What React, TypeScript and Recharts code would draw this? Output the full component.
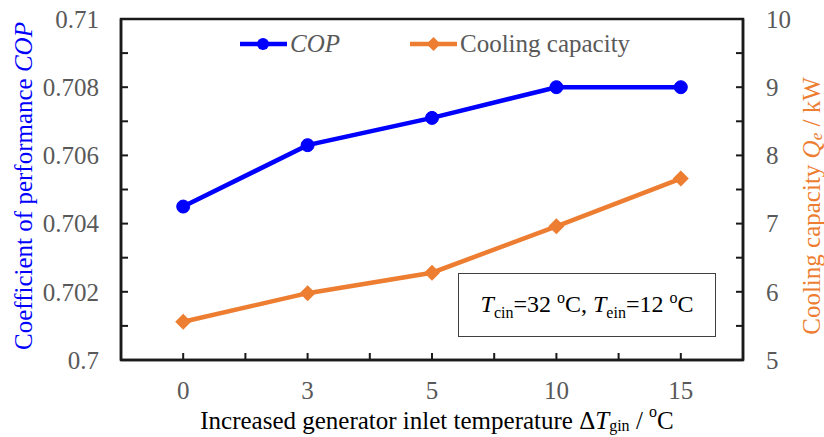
import { ComposedChart, Line, XAxis, YAxis, Legend, ReferenceArea, Label } from 'recharts';

const temps = ['0', '3', '5', '10', '15'];
const cop = [0.7045, 0.7063, 0.7071, 0.708, 0.708];
const cooling = [5.56, 5.98, 6.28, 6.96, 7.66];

const copTicks = [0.7, 0.702, 0.704, 0.706, 0.708, 0.71];
const copMinorTicks = [0.7, 0.701, 0.702, 0.703, 0.704, 0.705, 0.706, 0.707, 0.708, 0.709, 0.71];
const capTicks = [5, 6, 7, 8, 9, 10];
const capMinorTicks = [5, 5.5, 6, 6.5, 7, 7.5, 8, 8.5, 9, 9.5, 10];

const data = temps.map((t, i) => ({ t, cop: cop[i], cooling: cooling[i] }));

const FONT = '"Liberation Serif", "Times New Roman", serif';
const BLUE = '#0000FF';
const ORANGE = '#ED7D31';
const GREY = '#595959';
const INK = '#1a1a1a';
const FS = 25;
const TICK = 7;

// ticks point into the plot; labels only on the major values
const LeftTick = (props: any) => {
  const { x, y, payload } = props;
  const ax = x + 22;
  return (
    <g>
      <rect x={ax} y={y - 1} width={TICK} height={2} fill={INK} />
      {copTicks.includes(payload.value) && (
        <text x={x} y={y} dy="0.35em" textAnchor="end" fill={GREY} fontSize={FS} fontFamily={FONT}>{payload.value}</text>
      )}
    </g>
  );
};

const RightTick = (props: any) => {
  const { x, y, payload } = props;
  const ax = x - 23;
  return (
    <g>
      <rect x={ax - TICK} y={y - 1} width={TICK} height={2} fill={INK} />
      {capTicks.includes(payload.value) && (
        <text x={x} y={y} dy="0.35em" textAnchor="start" fill={GREY} fontSize={FS} fontFamily={FONT}>{payload.value}</text>
      )}
    </g>
  );
};

const BottomTick = (props: any) => {
  const { x, y, payload, index, visibleTicksCount } = props;
  const ay = y - 21;
  const off = payload.offset || 0;
  const last = index === (visibleTicksCount || temps.length) - 1;
  return (
    <g>
      <rect x={x - 1} y={ay - TICK} width={2} height={TICK} fill={INK} />
      <rect x={x - off - 1} y={ay - TICK} width={2} height={TICK} fill={INK} />
      {last && <rect x={x + off - 1} y={ay - TICK} width={2} height={TICK} fill={INK} />}
      <text x={x} y={y} dy="0.71em" textAnchor="middle" fill={GREY} fontSize={FS} fontFamily={FONT}>{payload.value}</text>
    </g>
  );
};

const Diamond = (props: any) => {
  const { cx, cy } = props;
  if (cx == null || cy == null) return <g />;
  const s = 8;
  return <path d={`M${cx},${cy - s}L${cx + s},${cy}L${cx},${cy + s}L${cx - s},${cy}Z`} fill={ORANGE} />;
};

const leftTitle = () => {
  const x = 23;
  const y = 186;
  return (
    <text x={x} y={y} transform={`rotate(-90 ${x} ${y})`} textAnchor="middle" dominantBaseline="central"
      fill={BLUE} fontSize={FS} fontFamily={FONT}>
      Coefficient of performance <tspan fontStyle="italic">COP</tspan>
    </text>
  );
};

const rightTitle = () => {
  const x = 811;
  const y = 206;
  return (
    <text x={x} y={y} transform={`rotate(-90 ${x} ${y})`} textAnchor="middle" dominantBaseline="central"
      fill={ORANGE} fontSize={FS} fontFamily={FONT}>
      Cooling capacity <tspan fontStyle="italic">Q</tspan>
      <tspan fontStyle="italic" fontSize={17} dy={5}>e</tspan>
      <tspan dy={-5}> / kW</tspan>
    </text>
  );
};

const bottomTitle = () => (
  <text x={437} y={420} textAnchor="middle" dominantBaseline="central" fill="#000" fontSize={FS} fontFamily={FONT}>
    Increased generator inlet temperature Δ<tspan fontStyle="italic">T</tspan>
    <tspan fontSize={16} dy={5}>gin</tspan>
    <tspan dy={-5}> / </tspan>
    <tspan fontSize={16} dy={-9}>o</tspan>
    <tspan dy={9}>C</tspan>
  </text>
);

const renderLegend = () => (
  <div style={{ display: 'flex', alignItems: 'center', fontFamily: FONT, fontSize: FS, color: GREY, whiteSpace: 'nowrap' }}>
    <svg width={47} height={16}>
      <line x1={0} y1={8} x2={47} y2={8} stroke={BLUE} strokeWidth={4.5} />
      <circle cx={23} cy={8} r={6} fill={BLUE} />
    </svg>
    <span style={{ fontStyle: 'italic', marginLeft: 3 }}>COP</span>
    <svg width={47} height={16} style={{ marginLeft: 70 }}>
      <line x1={0} y1={8} x2={47} y2={8} stroke={ORANGE} strokeWidth={4.5} />
      <path d="M23.5,1L30.5,8L23.5,15L16.5,8Z" fill={ORANGE} />
    </svg>
    <span style={{ marginLeft: 3 }}>Cooling capacity</span>
  </div>
);

export default function App() {
  return (
    <div style={{ position: 'absolute', left: 0, top: 0, width: 824, height: 437, background: '#fff', fontFamily: FONT }}>
      <ComposedChart width={824} height={437} data={data} margin={{ top: 19, right: 0, bottom: 0, left: 0 }}>
        <XAxis xAxisId="main" dataKey="t" type="category" scale="band" height={77}
          axisLine={{ stroke: INK, strokeWidth: 2.5 }} tickLine={false} tickSize={0} tickMargin={21}
          tick={BottomTick} interval={0}>
          <Label content={bottomTitle} />
        </XAxis>
        <YAxis yAxisId="cop" domain={[0.7, 0.71]} ticks={copMinorTicks} interval={0} width={121}
          axisLine={{ stroke: INK, strokeWidth: 2.5 }} tickLine={false} tickSize={0} tickMargin={22} tick={LeftTick}>
          <Label content={leftTitle} />
        </YAxis>
        <YAxis yAxisId="cap" orientation="right" domain={[5, 10]} ticks={capMinorTicks} interval={0} width={81}
          axisLine={{ stroke: INK, strokeWidth: 2.5 }} tickLine={false} tickSize={0} tickMargin={23} tick={RightTick}>
          <Label content={rightTitle} />
        </YAxis>
        <ReferenceArea xAxisId="main" yAxisId="cop" x1={temps[0]} x2={temps[temps.length - 1]}
          y1={copTicks[0]} y2={copTicks[copTicks.length - 1]} ifOverflow="visible"
          fill="#ffffff" fillOpacity={0.01} stroke={INK} strokeWidth={2.5} />
        <Legend layout="horizontal" verticalAlign="middle" align="center" content={renderLegend}
          wrapperStyle={{ left: 240, top: 30, width: 420 }} />
        <Line xAxisId="main" yAxisId="cop" dataKey="cop" stroke={BLUE} strokeWidth={4.5}
          dot={{ r: 6.5, fill: BLUE, stroke: BLUE, strokeWidth: 1 }} isAnimationActive={false} />
        <Line xAxisId="main" yAxisId="cap" dataKey="cooling" stroke={ORANGE} strokeWidth={4.5}
          dot={Diamond} isAnimationActive={false} />
      </ComposedChart>
      <div style={{
        position: 'absolute', left: 458, top: 273, width: 258, height: 64, boxSizing: 'border-box',
        border: '1.5px solid #404040', background: '#fff', display: 'flex', alignItems: 'center',
        justifyContent: 'center', fontSize: 24, color: '#000', fontFamily: FONT,
      }}>
        <span>
          <i>T</i><sub style={{ fontSize: 16 }}>cin</sub>=32 <sup style={{ fontSize: 16 }}>o</sup>C,{' '}
          <i>T</i><sub style={{ fontSize: 16 }}>ein</sub>=12 <sup style={{ fontSize: 16 }}>o</sup>C
        </span>
      </div>
    </div>
  );
}
